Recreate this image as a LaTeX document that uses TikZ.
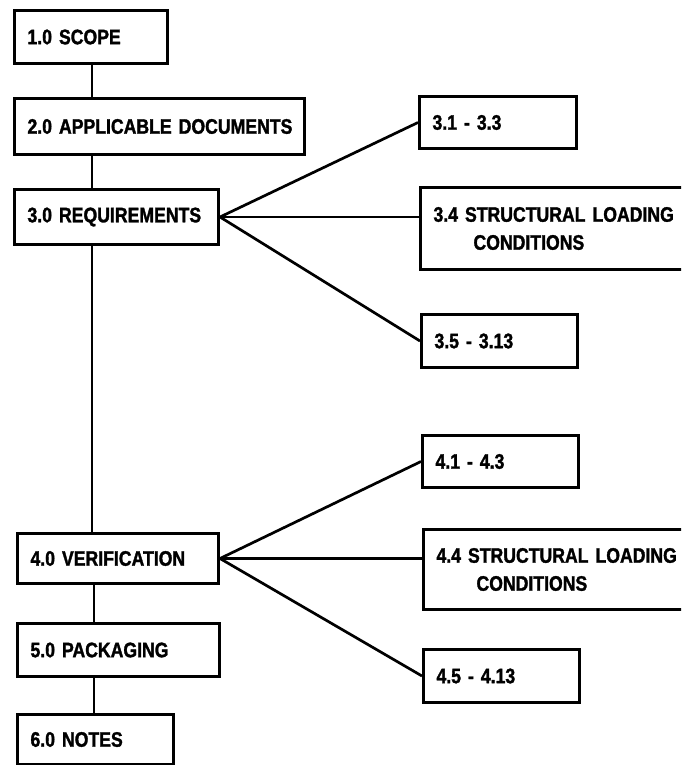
\documentclass[tikz,border=0pt]{standalone}
\usepackage{fontspec}
\setmainfont{Liberation Sans}[FakeStretch=0.84, WordSpace=2.2, FakeBold=1.5]
\begin{document}
\begin{tikzpicture}[x=1pt,y=-1pt]
\tikzset{
  secbox/.style={draw, line width=3pt, anchor=north west, inner xsep=13pt,
    inner ysep=0pt, align=left, font=\fontsize{21}{28}\selectfont\bfseries},
  link/.style={line width=2.7pt},
}
\useasboundingbox (0,0) rectangle (681,765);
\clip (0,0) rectangle (681,765);

% main section column
\node[secbox, text width=127pt, minimum height=53pt] (n1) at (13,9)   {\mbox{1.0 SCOPE}};
\node[secbox, text width=264pt, minimum height=56pt] (n2) at (13,97)  {\mbox{2.0 APPLICABLE DOCUMENTS}};
\node[secbox, text width=178pt, minimum height=55pt] (n3) at (13,188) {\mbox{3.0 REQUIREMENTS}};
\node[secbox, text width=175pt, minimum height=50pt] (n4) at (16,532) {\mbox{4.0 VERIFICATION}};
\node[secbox, text width=176pt, minimum height=53pt] (n5) at (16,622) {\mbox{5.0 PACKAGING}};
\node[secbox, text width=130pt, minimum height=50pt] (n6) at (16,713) {\mbox{6.0 NOTES}};

% requirement subsections
\node[secbox, text width=131pt, minimum height=52pt] (a1) at (418,95)  {\mbox{3.1 - 3.3}};
\node[secbox, text width=274pt, minimum height=82pt] (a2) at (419,186) {\mbox{3.4 STRUCTURAL LOADING}\\\hspace*{40pt}CONDITIONS};
\node[secbox, text width=130pt, minimum height=53pt] (a3) at (420,313) {\mbox{3.5 - 3.13}};

% verification subsections
\node[secbox, text width=130pt, minimum height=52pt] (b1) at (421,434) {\mbox{4.1 - 4.3}};
\node[secbox, text width=274pt, minimum height=80pt] (b2) at (422,528) {\mbox{4.4 STRUCTURAL LOADING}\\\hspace*{40pt}CONDITIONS};
\node[secbox, text width=130pt, minimum height=53pt] (b3) at (422,648) {\mbox{4.5 - 4.13}};

% spine of the main column
\coordinate (spineA) at (92,0);
\coordinate (spineB) at (94,0);
\draw[link] (n1.south -| spineA) -- (n2.north -| spineA);
\draw[link] (n2.south -| spineA) -- (n3.north -| spineA);
\draw[link] (n3.south -| spineA) -- (n4.north -| spineA);
\draw[link] (n4.south -| spineB) -- (n5.north -| spineB);
\draw[link] (n5.south -| spineB) -- (n6.north -| spineB);

% fans to subsections
\draw[link] (n3.east) -- (a1.west);
\draw[link] (n3.east) -- (n3.east -| a2.west);
\draw[link] (n3.east) -- (a3.west);
\draw[link] (n4.east) -- (b1.west);
\draw[link] (n4.east) -- (n4.east -| b2.west);
\draw[link] (n4.east) -- (b3.west);
\end{tikzpicture}
\end{document}
